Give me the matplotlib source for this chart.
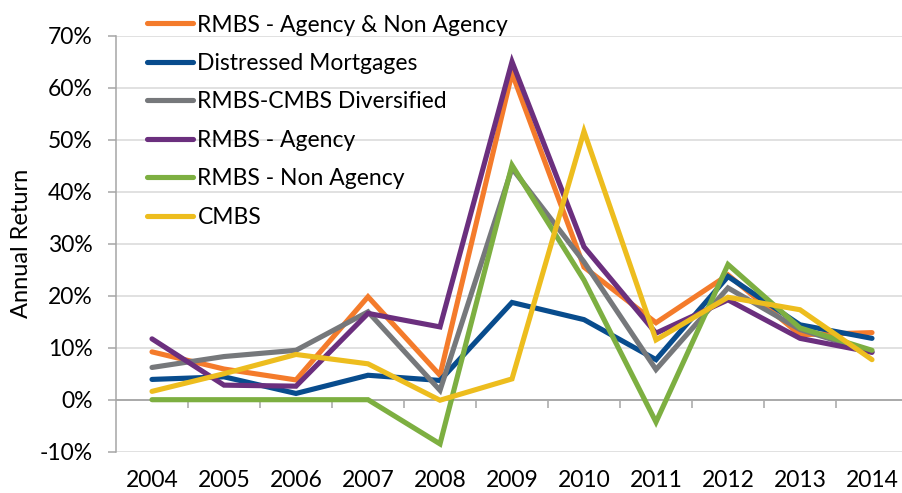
import matplotlib
matplotlib.use("Agg")
import matplotlib.pyplot as plt
from matplotlib.ticker import PercentFormatter

years = ["2004", "2005", "2006", "2007", "2008", "2009", "2010", "2011", "2012", "2013", "2014"]

rmbs_agency_non_agency = [9.2, 5.9, 3.8, 19.8, 4.7, 62.8, 25.5, 14.8, 24.0, 12.5, 12.9]
distressed_mortgages = [3.9, 4.4, 1.2, 4.7, 3.7, 18.7, 15.4, 7.7, 23.7, 14.4, 11.8]
rmbs_cmbs_diversified = [6.2, 8.3, 9.5, 16.9, 1.8, 44.5, 26.5, 5.8, 21.5, 13.5, 9.2]
rmbs_agency = [11.7, 2.8, 2.6, 16.6, 14.0, 65.0, 29.4, 12.8, 19.2, 11.8, 9.1]
rmbs_non_agency = [0.0, 0.0, 0.0, 0.0, -8.5, 45.1, 23.0, -4.3, 26.0, 13.8, 9.5]
cmbs = [1.6, 5.0, 8.7, 6.9, -0.1, 4.0, 51.6, 11.5, 19.7, 17.3, 7.7]

series_names = ["RMBS - Agency & Non Agency", "Distressed Mortgages", "RMBS-CMBS Diversified",
                "RMBS - Agency", "RMBS - Non Agency", "CMBS"]
series_values = [rmbs_agency_non_agency, distressed_mortgages, rmbs_cmbs_diversified,
                 rmbs_agency, rmbs_non_agency, cmbs]
series_colors = ["#F47B2B", "#084C8D", "#76787B", "#6B2F7E", "#7DAF41", "#EDBD1E"]

y_ticks = [-10, 0, 10, 20, 30, 40, 50, 60, 70]

plt.rcParams['font.family'] = ['Lato', 'DejaVu Sans']
plt.rcParams['axes.unicode_minus'] = False

FS = 16.5

fig = plt.figure(figsize=(9.03, 4.93), dpi=100)
W, H = 903, 493
ax = fig.add_axes([116 / W, 1 - 451.7 / H, (908 - 116) / W, (451.7 - 35.7) / H])

x = list(range(len(years)))
for name, vals, col in zip(series_names, series_values, series_colors):
    ax.plot(x, vals, color=col, lw=3.7, solid_capstyle='round', solid_joinstyle='miter', label=name)

ax.set_xlim(-0.5, len(years) - 0.5)
ax.set_ylim(-10, 70)
ax.set_yticks(y_ticks)
ax.yaxis.set_major_formatter(PercentFormatter(decimals=0))
ax.grid(axis='y', color='#D9D9D9', lw=1.1)
ax.set_axisbelow(True)

for s in ['top', 'right', 'bottom']:
    ax.spines[s].set_visible(False)
ax.spines['left'].set_color('#A6A6A6')
ax.spines['left'].set_linewidth(1.1)

ax.tick_params(axis='y', length=5.8, width=1.1, color='#A6A6A6', pad=11, labelsize=FS)
ax.set_xticks(x)
ax.set_xticklabels(years)
ax.tick_params(axis='x', length=0, pad=13, labelsize=FS)

# zero axis line with category boundary ticks
ax.axhline(0, color='#A6A6A6', lw=1.3, zorder=1.5)
sec = ax.secondary_xaxis(0, transform=ax.transData)
sec.spines['bottom'].set_visible(False)
sec.set_xticks([i + 0.5 for i in range(len(years))])
sec.tick_params(axis='x', length=5.5, width=1.1, color='#A6A6A6', labelbottom=False, direction='out')

ax.set_ylabel("Annual Return", fontsize=17)
ax.yaxis.set_label_coords((32 - 116) / (908 - 116), 0.5)

leg = ax.legend(loc='upper left', bbox_to_anchor=(147 / W, 1 - 14.5 / H), bbox_transform=fig.transFigure,
                frameon=False, fontsize=FS, handlelength=2.0, handletextpad=0.2,
                labelspacing=0.76, borderpad=0, borderaxespad=0)
for line in leg.get_lines():
    line.set_linewidth(3.7)

fig.savefig("out.png", dpi=100)
